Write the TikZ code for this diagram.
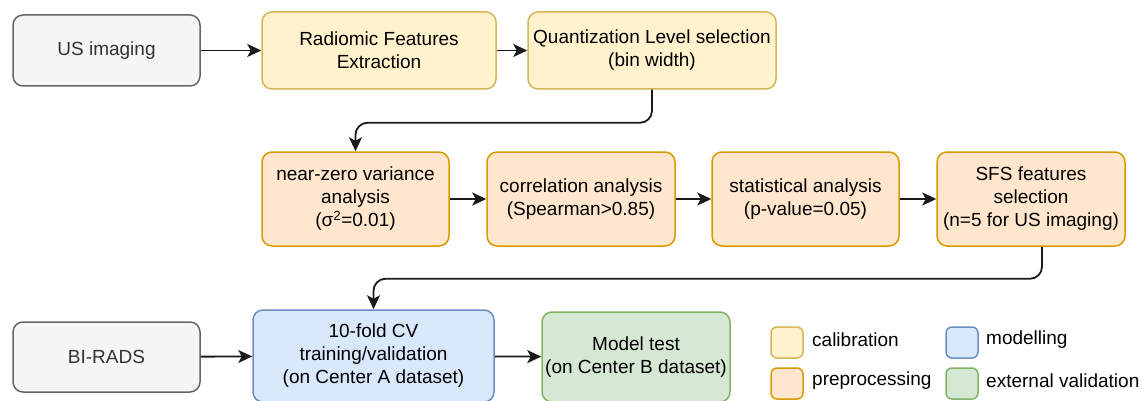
\documentclass[tikz,border=0pt]{standalone}
\usepackage{fontspec}
\setmainfont{Liberation Sans}
\usetikzlibrary{arrows.meta}

\definecolor{grayfill}{HTML}{F5F5F5}
\definecolor{graydraw}{HTML}{666666}
\definecolor{graytext}{HTML}{333333}
\definecolor{calfill}{HTML}{FFF2CC}
\definecolor{caldraw}{HTML}{D6B656}
\definecolor{prefill}{HTML}{FFE6CC}
\definecolor{predraw}{HTML}{D79B00}
\definecolor{modfill}{HTML}{DAE8FC}
\definecolor{moddraw}{HTML}{6C8EBF}
\definecolor{extfill}{HTML}{D5E8D4}
\definecolor{extdraw}{HTML}{82B366}
\definecolor{linkcol}{HTML}{1A1A1A}

\begin{document}
\begin{tikzpicture}[x=1pt, y=-1pt,
    >={Stealth[length=14pt, width=13pt, inset=3.5pt]},
    box/.style={rectangle, rounded corners=10pt, line width=1.5pt, align=center,
        inner sep=2pt, font=\fontsize{19}{23}\selectfont},
    inbox/.style={box, fill=grayfill, draw=graydraw, text=graytext},
    calbox/.style={box, fill=calfill, draw=caldraw},
    prebox/.style={box, fill=prefill, draw=predraw},
    modbox/.style={box, fill=modfill, draw=moddraw},
    extbox/.style={box, fill=extfill, draw=extdraw},
    swatch/.style={rectangle, rounded corners=6pt, line width=1.5pt,
        minimum width=32pt, minimum height=31pt},
    legtext/.style={anchor=west, inner sep=0pt, font=\fontsize{19}{23}\selectfont},
    link/.style={->, draw=linkcol, line width=1.8pt}]
    \useasboundingbox (0,0) rectangle (1142,401);

    % ---- top row: input and calibration ----
    \node[inbox, minimum width=187pt, minimum height=71pt] (us) at (106.5,50.5) {US imaging};
    \node[calbox, minimum width=234pt, minimum height=77pt] (rad) at (379,50.5) {Radiomic Features\\Extraction};
    \node[calbox, minimum width=248pt, minimum height=77pt] (quant) at (652,50.5) {Quantization Level selection\\(bin width)};

    % ---- middle row: preprocessing ----
    \node[prebox, minimum width=187pt, minimum height=94pt] (nzv) at (355.5,199) {near-zero variance\\analysis\\(σ\textsuperscript{2}=0.01)};
    \node[prebox, minimum width=188pt, minimum height=94pt] (corr) at (581,199) {correlation analysis\\(Spearman>0.85)};
    \node[prebox, minimum width=187pt, minimum height=94pt] (stat) at (805.5,199) {statistical analysis\\(p-value=0.05)};
    \node[prebox, minimum width=188pt, minimum height=94pt] (sfs) at (1031,199) {SFS features\\selection\\(n=5 for US imaging)};

    % ---- bottom row: modelling and validation ----
    \node[inbox, minimum width=187pt, minimum height=70pt] (birads) at (106.5,357) {BI-RADS};
    \node[modbox, minimum width=241pt, minimum height=92pt] (cv) at (373.5,356) {10-fold CV\\training/validation\\(on Center A dataset)};
    \node[extbox, minimum width=188pt, minimum height=90pt] (test) at (636,357) {Model test\\(on Center B dataset)};

    % ---- connectors ----
    \draw[link] (us) -- (rad);
    \draw[link] (rad) -- (quant);
    \draw[link, rounded corners=12pt] (quant.south) -- ++(0,33) -| (nzv.north);
    \draw[link] (nzv) -- (corr);
    \draw[link] (corr) -- (stat);
    \draw[link] (stat) -- (sfs);
    \draw[link, rounded corners=12pt] ([xshift=11pt]sfs.south) -- ++(0,32) -| (cv.north);
    \draw[link] (birads) -- (cv);
    \draw[link] (cv) -- (test);

    % ---- legend ----
    \node[swatch, fill=calfill, draw=caldraw] (swcal) at (787,342.5) {};
    \node[swatch, fill=prefill, draw=predraw] (swpre) at (787,383.5) {};
    \node[swatch, fill=modfill, draw=moddraw] (swmod) at (962,342.5) {};
    \node[swatch, fill=extfill, draw=extdraw] (swext) at (962,383.5) {};
    \node[legtext] (lgcal) at (812,340) {calibration};
    \node[legtext] (lgpre) at (812,381) {preprocessing};
    \node[legtext] (lgmod) at (986,340) {modelling};
    \node[legtext] (lgext) at (986,381) {external validation};
\end{tikzpicture}
\end{document}
